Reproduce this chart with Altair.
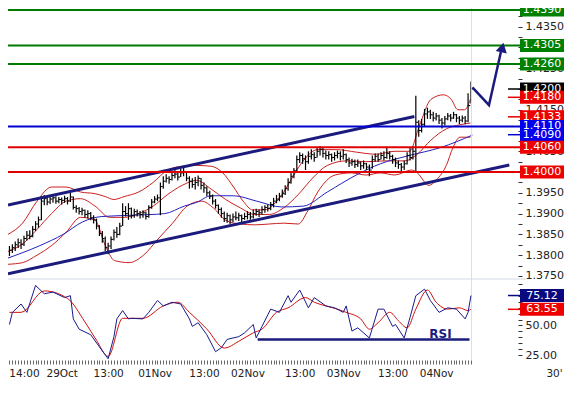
import altair as alt
import pandas as pd

W, H = 510, 352
FONT = "DejaVu Sans"
NAVY = "#1b1b7d"
RED = "#e00000"
GREEN = "#007a00"
BLUE = "#0000d0"

# ---------------- data (prices in pips: price = 1 + v/10000) ----------------
bar_high = [3822, 3826, 3833, 3840, 3838, 3847, 3858, 3860, 3870, 3882,
            3893, 3941, 3945, 3940, 3942, 3946, 3942, 3940, 3939, 3943,
            3940, 3950, 3941, 3920, 3916, 3914, 3910, 3908, 3904, 3896,
            3888, 3872, 3858, 3845, 3830, 3845, 3862, 3868, 3878, 3925,
            3918, 3925, 3915, 3912, 3910, 3906, 3908, 3905, 3920, 3935,
            3942, 3946, 3975, 3990, 3995, 3990, 4002, 4008, 4002, 4008,
            4010, 4000, 3990, 3985, 3988, 3992, 3986, 3975, 3966, 3955,
            3946, 3935, 3922, 3915, 3905, 3902, 3898, 3900, 3905, 3902,
            3898, 3902, 3906, 3904, 3910, 3912, 3910, 3918, 3920, 3922,
            3928, 3938, 3945, 3950, 3958, 3968, 3985, 4000, 4010, 4040,
            4048, 4045, 4040, 4050, 4055, 4048, 4060, 4062, 4058, 4052,
            4050, 4045, 4048, 4052, 4050, 4055, 4045, 4035, 4032, 4030,
            4030, 4025, 4028, 4022, 4018, 4040, 4045, 4045, 4048, 4050,
            4058, 4050, 4042, 4035, 4028, 4022, 4028, 4048, 4060, 4062,
            4184, 4125, 4128, 4152, 4155, 4150, 4145, 4142, 4138, 4130,
            4135, 4142, 4140, 4145, 4140, 4135, 4136, 4135, 4190, 4218]
bar_low = [3798, 3805, 3810, 3817, 3815, 3822, 3835, 3838, 3843, 3858,
           3866, 3884, 3920, 3920, 3923, 3926, 3924, 3925, 3922, 3926,
           3922, 3928, 3910, 3902, 3898, 3896, 3890, 3888, 3884, 3876,
           3862, 3846, 3830, 3810, 3802, 3815, 3835, 3842, 3848, 3870,
           3893, 3885, 3888, 3890, 3893, 3888, 3890, 3886, 3890, 3912,
           3925, 3930, 3896, 3960, 3975, 3972, 3980, 3985, 3980, 3988,
           3990, 3978, 3960, 3962, 3958, 3966, 3958, 3950, 3942, 3935,
           3922, 3912, 3900, 3890, 3880, 3878, 3875, 3880, 3884, 3882,
           3880, 3885, 3886, 3885, 3888, 3895, 3892, 3898, 3902, 3905,
           3908, 3915, 3925, 3930, 3938, 3945, 3955, 3972, 3985, 4002,
           4022, 4020, 4005, 4020, 4030, 4025, 4035, 4040, 4035, 4030,
           4030, 4025, 4028, 4033, 4028, 4030, 4022, 4012, 4015, 4010,
           4012, 4005, 4008, 4005, 3990, 4008, 4025, 4025, 4030, 4028,
           4032, 4030, 4020, 4012, 4008, 4002, 4005, 4018, 4028, 4030,
           4002, 4085, 4095, 4110, 4128, 4128, 4122, 4124, 4116, 4105,
           4112, 4125, 4122, 4128, 4120, 4116, 4120, 4115, 4120, 4165]
bar_close = [3812, 3818, 3825, 3830, 3826, 3840, 3848, 3845, 3862, 3875,
             3885, 3930, 3936, 3928, 3935, 3938, 3930, 3934, 3932, 3936,
             3930, 3940, 3915, 3912, 3905, 3908, 3898, 3900, 3890, 3885,
             3870, 3852, 3840, 3818, 3822, 3838, 3855, 3850, 3870, 3905,
             3900, 3912, 3895, 3905, 3900, 3898, 3902, 3893, 3915, 3928,
             3935, 3938, 3965, 3978, 3985, 3982, 3992, 3995, 3988, 3998,
             4000, 3985, 3978, 3970, 3975, 3985, 3968, 3962, 3950, 3942,
             3930, 3920, 3910, 3900, 3888, 3895, 3885, 3892, 3890, 3895,
             3888, 3893, 3898, 3892, 3900, 3905, 3902, 3910, 3915, 3912,
             3922, 3930, 3935, 3942, 3948, 3960, 3975, 3990, 4003, 4030,
             4040, 4032, 4025, 4038, 4042, 4035, 4050, 4055, 4045, 4040,
             4042, 4035, 4040, 4045, 4038, 4042, 4030, 4022, 4025, 4018,
             4022, 4015, 4020, 4012, 4005, 4030, 4038, 4030, 4040, 4035,
             4045, 4038, 4030, 4022, 4018, 4012, 4020, 4040, 4035, 4050,
             4120, 4100, 4115, 4140, 4145, 4138, 4130, 4135, 4125, 4118,
             4128, 4135, 4130, 4138, 4130, 4125, 4130, 4123, 4160, 4200]

bb_up_i = [-0.5, 4.5, 9.5, 14.5, 19.5, 24.5, 29.5, 33, 36, 39.5, 44.5, 49.5, 54.5, 59.5, 64.5,
           69.5, 73.5, 77.2, 80.5, 83.8, 87.8, 91.2, 94.5, 97.8, 101.2, 106.2, 112.8, 119.5,
           126.2, 132.8, 137.8, 141.2, 145.2, 149.5, 152.2, 154.5, 156.8, 158.8]
bb_up_v = [3850, 3877, 3930, 3964, 3964, 3952, 3948, 3941, 3934, 3941, 3952, 3975, 4005, 4014, 4016,
           4014, 3998, 3964, 3930, 3909, 3909, 3923, 3952, 3991, 4027, 4054, 4054, 4048,
           4043, 4050, 4050, 4111, 4175, 4186, 4175, 4150, 4150, 4175]
bb_mid_i = [-0.5, 4.5, 9.5, 14.5, 19.5, 24.5, 29.5, 34.5, 39.5, 44.5, 49.5, 54.5, 59.5, 64.5,
            69.5, 74.5, 79.5, 84.5, 89.5, 94.5, 99.5, 104.5, 109.5, 116.2, 122.8, 129.5, 136.2,
            140.5, 145.2, 150.5, 155.2, 158.8]
bb_mid_v = [3809, 3827, 3862, 3900, 3930, 3936, 3918, 3891, 3891, 3900, 3918, 3946, 3968, 3980,
            3959, 3934, 3914, 3898, 3898, 3914, 3946, 3986, 4016, 4027, 4025, 4027, 4027,
            4043, 4077, 4104, 4114, 4118]
bb_low_i = [-0.5, 4.5, 9.5, 14.5, 19.5, 24.5, 29.5, 32.8, 36.2, 41.2, 46.2, 51.2, 56.2, 61.2, 66.2,
            70.2, 74.5, 79.5, 84.5, 89.5, 94.5, 99.5, 102.8, 106.2, 112.2, 117.8, 122.8, 127.8,
            132.8, 138.5, 140.5, 144.5, 147.2, 150.5, 152.8, 155.2, 158.8]
bb_low_v = [3778, 3782, 3800, 3823, 3855, 3891, 3884, 3827, 3787, 3782, 3800, 3839, 3877, 3918, 3930,
            3914, 3884, 3875, 3873, 3875, 3877, 3875, 3907, 3952, 3993, 3998, 3993, 3998,
            3993, 4005, 3998, 3968, 3982, 4016, 4059, 4084, 4084]
ma_i = [-0.5, 10.5, 18.5, 25.2, 31.8, 42.2, 53.5, 60.2, 64.5, 69.5, 77.2, 85.2, 93.8, 101.2,
        109.5, 119.5, 127.8, 137.2, 148.5, 159.5]
ma_v = [3793, 3823, 3850, 3880, 3893, 3896, 3900, 3918, 3927, 3943, 3943, 3930, 3916, 3918,
        3952, 3993, 4020, 4039, 4059, 4089]

rsi_i = [0, 1, 4, 6, 9, 12, 15, 19, 21, 22, 24, 28, 31, 34, 36, 37, 39, 41, 42, 46, 48, 51, 53,
         56, 59, 62, 63, 65, 68, 71, 73, 75, 79, 81, 84, 85, 87, 90, 93, 96, 97, 100, 103, 105,
         109, 112, 115, 116, 118, 120, 124, 127, 129, 132, 133, 136, 138, 140, 143, 145, 148,
         151, 154, 157, 158, 159]
rsi_v = [50.8, 60.9, 68, 61, 83.6, 76.6, 78, 73.4, 75, 55.5, 46.9, 42.2, 32, 22, 40.6, 55.5,
         62.5, 55.5, 56, 55.5, 61, 71, 66.4, 69.5, 68, 55.5, 49.2, 52.3, 42.2, 28, 31.3, 38.3,
         40.6, 43.8, 50.8, 39.5, 49.2, 63.7, 61, 75, 69.5, 79.7, 64.8, 73.4, 66.4, 64.8, 61,
         66.4, 45.3, 48, 39.5, 63.7, 63.7, 49.2, 50.8, 39.5, 56.6, 75, 80.5, 71, 61, 64.8, 63.7,
         55.5, 61, 75.12]
sig_i = [0, 4, 12, 20, 26, 30, 34, 39, 46, 53, 58, 62, 68, 74, 79, 84, 87, 92, 96, 102, 105,
         109, 113, 116, 121, 124, 127, 131, 134, 137, 140, 144, 147, 151, 155, 158, 159]
sig_v = [61, 61, 79, 72.7, 53, 37.5, 24, 56, 56, 66.4, 69.5, 61, 47, 31, 36.7, 43.8, 46.9, 61,
         64.8, 73.4, 69.5, 66.4, 63.7, 61, 55.5, 46.9, 52.3, 61, 54, 48, 63.7, 79.7, 69.5, 63.7,
         64.8, 62.5, 63.55]

x_label_pos = [5, 18, 34, 50, 67, 82, 100, 115, 132, 147]
x_label_text = ["14:00", "29Oct", "13:00", "01Nov", "13:00", "02Nov", "13:00", "03Nov", "13:00", "04Nov"]

level_prices = [1.4390, 1.4305, 1.4260, 1.4110, 1.4060, 1.4000]
level_colors = [GREEN, GREEN, GREEN, BLUE, RED, RED]
box_prices = [1.4390, 1.4305, 1.4260, 1.4200, 1.4180, 1.4090, 1.4133, 1.4110, 1.4060, 1.4000]
box_colors = ["#008000", "#008000", "#008000", "#000000", "#ee0000", "#0000ee", "#ee0000",
              "#0000ee", "#ee0000", "#ee0000"]
hidden_axis_pips = [14300, 14200, 14100, 14000]
marker_prices = [1.4200, 1.4180, 1.4133, 1.4090]
marker_colors = ["#000000", RED, RED, BLUE]
rsi_box_values = [75.12, 63.55]
rsi_box_colors = ["#0a0a80", "#ee0000"]

channel_up_i, channel_up_v = [-0.5, 139.5], [3920.5, 4134]
channel_lo_i, channel_lo_v = [-0.5, 172.2], [3755, 4017]
arrow_i, arrow_v = [159.5, 165.2, 169.3], [4204, 4161, 4289]
arrow_head_i, arrow_head_v = [169.8], [4300]
rsi_support_i, rsi_support_v = [85.5, 158.5], [38.3, 38.3]
now_i = [159.2]


def pr(vs):
    return [1 + v / 10000 for v in vs]


# ---------------- scales / axes ----------------
x_scale = alt.Scale(domain=[-0.5, 175.2], nice=False, zero=False)
p_scale = alt.Scale(domain=[1.3745, 1.4395], range=[270, 0], nice=False, zero=False)
r_scale = alt.Scale(domain=[21, 89], range=[H, 271], nice=False, zero=False)

xexpr = "''"
for pos, txt in reversed(list(zip(x_label_pos, x_label_text))):
    xexpr = f"datum.value == {pos} ? '{txt}' : ({xexpr})"

x_axis = alt.Axis(values=list(range(160)), labelExpr=xexpr, tickSize=4, tickColor="#666",
                  domain=False, grid=False, labelOverlap=False, labelFlush=False,
                  labelPadding=4, labelFont=FONT, labelFontSize=10.5, labelColor="#222",
                  labelAlign="center", title="30'", titleX=W + 36, titleY=8,
                  titleBaseline="top", titleAlign="center", titleFont=FONT,
                  titleFontSize=10.5, titleFontWeight="normal", titleColor="#222")
p_ticks = [round(1.3750 + 0.0025 * k, 4) for k in range(26)]
hidden = "[" + ",".join(str(v) for v in hidden_axis_pips) + "]"
p_axis = alt.Axis(orient="right", values=p_ticks,
                  labelExpr=f"(round(datum.value*10000) % 50 == 0 && indexof({hidden}, round(datum.value*10000)) < 0) ? format(datum.value, '.4f') : ''",
                  domain=False, grid=False, tickSize=4, tickColor="#333", labelFont=FONT,
                  labelFontSize=11, labelColor="#222", labelPadding=3, labelOverlap=False,
                  labelFlush=False, title=None)
r_axis = alt.Axis(orient="right", values=list(range(25, 90, 5)),
                  labelExpr="(datum.value == 25 || datum.value == 50) ? format(datum.value, '.2f') : ''",
                  domain=False, grid=False, tickSize=4, tickColor="#333", labelFont=FONT,
                  labelFontSize=11, labelColor="#222", labelPadding=3, labelOverlap=False,
                  labelFlush=False, title=None)


def X(f):
    return alt.X(f, type="quantitative", scale=x_scale, axis=x_axis)


def P(f, axis=None):
    return alt.Y(f, type="quantitative", scale=p_scale, axis=axis)


def R(f, axis=None):
    return alt.Y(f, type="quantitative", scale=r_scale, axis=axis)


# ---------------- frames ----------------
bars = pd.DataFrame({"i": list(range(160)), "hi": pr(bar_high), "lo": pr(bar_low), "cl": pr(bar_close)})
bars["i2"] = bars["i"] + 0.8


def line_df(xs, vs, price=True):
    return pd.DataFrame({"i": xs, "v": pr(vs) if price else vs, "o": list(range(len(xs)))})


up_df = line_df(bb_up_i, bb_up_v)
mid_df = line_df(bb_mid_i, bb_mid_v)
low_df = line_df(bb_low_i, bb_low_v)
ma_df = line_df(ma_i, ma_v)
ch_up = line_df(channel_up_i, channel_up_v)
ch_lo = line_df(channel_lo_i, channel_lo_v)
arrow_df = line_df(arrow_i, arrow_v)
head_df = line_df(arrow_head_i, arrow_head_v)
rsi_df = line_df(rsi_i, rsi_v, price=False)
sig_df = line_df(sig_i, sig_v, price=False)
sup_df = line_df(rsi_support_i, rsi_support_v, price=False)
levels = pd.DataFrame({"p": level_prices, "c": level_colors})
boxes = pd.DataFrame({"p": box_prices, "c": box_colors, "t": [f"{p:.4f}" for p in box_prices],
                      "o": list(range(len(box_prices)))})
markers = pd.DataFrame({"p": marker_prices, "c": marker_colors})
rboxes = pd.DataFrame({"p": rsi_box_values, "c": rsi_box_colors, "t": [f"{v:.2f}" for v in rsi_box_values]})
now_df = pd.DataFrame({"i": now_i})
sep_df = pd.DataFrame({"r": [89]})
rsi_txt = pd.DataFrame({"i": [148.5], "r": [43], "t": ["RSI"]})

layers = []
for df, col in [(up_df, "#cc2020"), (mid_df, "#cc2020"), (low_df, "#cc2020"), (ma_df, "#2222c0")]:
    layers.append(alt.Chart(df).mark_line(color=col, strokeWidth=1, interpolate="monotone").encode(
        x=X("i"), y=P("v"), order="o:Q"))

layers.append(alt.Chart(bars).mark_rule(color="black", strokeWidth=1.2).encode(
    x=X("i"), y=P("hi", p_axis), y2="lo"))
layers.append(alt.Chart(bars).mark_rule(color="black", strokeWidth=1).encode(
    x=X("i"), x2="i2", y=P("cl")))

layers.append(alt.Chart(now_df).mark_rule(color="#d4e0ea", strokeWidth=1).encode(x=X("i")))
layers.append(alt.Chart(sep_df).mark_rule(color="#d4dce6", strokeWidth=1).encode(
    x=alt.value(0), x2=alt.value(W + 8), y=R("r")))

for df in (ch_up, ch_lo):
    layers.append(alt.Chart(df).mark_line(color=NAVY, strokeWidth=3).encode(
        x=X("i"), y=P("v"), order="o:Q"))

layers.append(alt.Chart(levels).mark_rule(strokeWidth=2).encode(
    x=alt.value(0), x2=alt.value(W + 3), y=P("p"), color=alt.Color("c:N", scale=None)))

layers.append(alt.Chart(arrow_df).mark_line(color=NAVY, strokeWidth=2.5).encode(
    x=X("i"), y=P("v"), order="o:Q"))
layers.append(alt.Chart(head_df).mark_point(shape="triangle-up", filled=True, size=130, angle=13,
                                              color=NAVY, opacity=1).encode(x=X("i"), y=P("v")))

layers.append(alt.Chart(markers).mark_rule(strokeWidth=1.5).encode(
    x=alt.value(W - 10), x2=alt.value(W + 3), y=P("p"), color=alt.Color("c:N", scale=None)))
layers.append(alt.Chart(boxes).mark_rect(yOffset=-6.5, y2Offset=6.5).encode(
    x=alt.value(W + 2), x2=alt.value(W + 46), y=P("p"), y2="p",
    color=alt.Color("c:N", scale=None), order="o:Q"))
layers.append(alt.Chart(boxes).mark_text(font=FONT, fontSize=11, color="white",
                                         align="center", baseline="middle").encode(
    x=alt.value(W + 24), y=P("p"), text="t:N"))

# RSI panel
layers.append(alt.Chart(sig_df).mark_line(color="#d01010", strokeWidth=1, interpolate="monotone").encode(
    x=X("i"), y=R("v"), order="o:Q"))
layers.append(alt.Chart(rsi_df).mark_line(color="#1a1a8a", strokeWidth=1).encode(
    x=X("i"), y=R("v", r_axis), order="o:Q"))
layers.append(alt.Chart(sup_df).mark_line(color=NAVY, strokeWidth=2.5).encode(
    x=X("i"), y=R("v"), order="o:Q"))
layers.append(alt.Chart(rsi_txt).mark_text(font=FONT, fontSize=12, fontWeight="bold", color=NAVY).encode(
    x=X("i"), y=R("r"), text="t:N"))
layers.append(alt.Chart(rboxes).mark_rule(strokeWidth=1.5).encode(
    x=alt.value(W - 10), x2=alt.value(W + 3), y=R("p"), color=alt.Color("c:N", scale=None)))
layers.append(alt.Chart(rboxes).mark_rect(yOffset=-6.5, y2Offset=6.5).encode(
    x=alt.value(W + 2), x2=alt.value(W + 46), y=R("p"), y2="p", color=alt.Color("c:N", scale=None)))
layers.append(alt.Chart(rboxes).mark_text(font=FONT, fontSize=11, color="white",
                                          align="center", baseline="middle").encode(
    x=alt.value(W + 24), y=R("p"), text="t:N"))

chart = alt.layer(*layers).resolve_scale(y="independent").properties(
    width=W, height=H,
    autosize=alt.AutoSizeParams(type="none"),
    padding={"left": 0, "top": 0, "right": 47, "bottom": 20},
    background="white",
).configure_view(stroke=None)

chart.save("out.html", embed_options={"renderer": "svg", "actions": False})
